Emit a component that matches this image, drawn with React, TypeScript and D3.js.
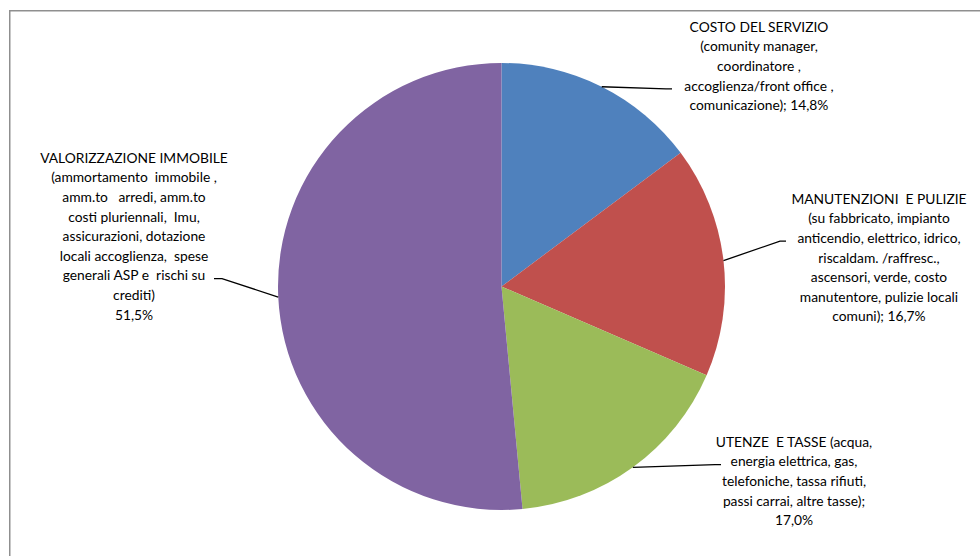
import React from "react";
import * as d3 from "d3";

const categories = ["costo", "manutenzioni", "utenze", "valorizzazione"];
const values = [14.8, 16.7, 17.0, 51.5];
const colors = ["#4F81BD", "#C0504D", "#9BBB59", "#8064A2"];
const labelLines = [
  ["COSTO DEL SERVIZIO", "(comunity manager,", "coordinatore ,", "accoglienza/front office ,", "comunicazione); 14,8%"],
  ["MANUTENZIONI  E PULIZIE", "(su fabbricato, impianto", "anticendio, elettrico, idrico,", "riscaldam. /raffresc.,", "ascensori, verde, costo", "manutentore, pulizie locali", "comuni); 16,7%"],
  ["UTENZE  E TASSE (acqua,", "energia elettrica, gas,", "telefoniche, tassa rifiuti,", "passi carrai, altre tasse);", "17,0%"],
  ["VALORIZZAZIONE IMMOBILE", "(ammortamento  immobile ,", "amm.to   arredi, amm.to", "costi pluriennali,  Imu,", "assicurazioni, dotazione", "locali accoglienza,  spese", "generali ASP e  rischi su", "crediti)", "51,5%"],
];
const labelCenterX = [759, 879, 794, 134];
const labelTopY = [27, 199, 442, 158];
const anchorX = [672, 786, 721, 214];
const anchorLine = [3, 2, 1, 6];
const anchorSide = [-1, -1, -1, 1];

const W = 980, H = 556;
const cx = 501.5, cy = 286.5, R = 223.5;
const lineH = 19.6;

export default function App() {
  const pie = d3.pie<number>().sort(null).value((d) => d)(values);
  const arc = d3.arc<d3.PieArcDatum<number>>().innerRadius(0).outerRadius(R);
  return (
    <svg width={W} height={H} style={{ position: "absolute", left: 0, top: 0, background: "#fff" }}
      fontFamily="Lato, 'Open Sans', sans-serif" fontSize={13.8}>
      <rect x={9.75} y={10.75} width={1100} height={700} fill="#fff" stroke="#8f8f8f" strokeWidth={1.5} />
      <g transform={`translate(${cx},${cy})`}>
        {pie.map((p, i) => (
          <path key={categories[i]} d={arc(p) || ""} fill={colors[i]} />
        ))}
      </g>
      {pie.map((p, i) => {
        const a = (p.startAngle + p.endAngle) / 2;
        const sx = cx + R * Math.sin(a);
        const sy = cy - R * Math.cos(a);
        const ay = labelTopY[i] + anchorLine[i] * lineH + 3;
        const ex = anchorX[i];
        const kx = ex + (anchorSide[i] < 0 ? -6 : 8);
        return (
          <polyline key={"l" + i} points={`${sx},${sy} ${kx},${ay} ${ex},${ay}`} fill="none" stroke="#000" strokeWidth={1.3} />
        );
      })}
      {labelLines.map((lines, i) => (
        <text key={"t" + i} textAnchor="middle" fill="#000">
          {lines.map((ln, j) => (
            <tspan key={j} x={labelCenterX[i]} y={labelTopY[i] + j * lineH + 4.8} style={{ whiteSpace: "pre" }}>{ln}</tspan>
          ))}
        </text>
      ))}
    </svg>
  );
}
